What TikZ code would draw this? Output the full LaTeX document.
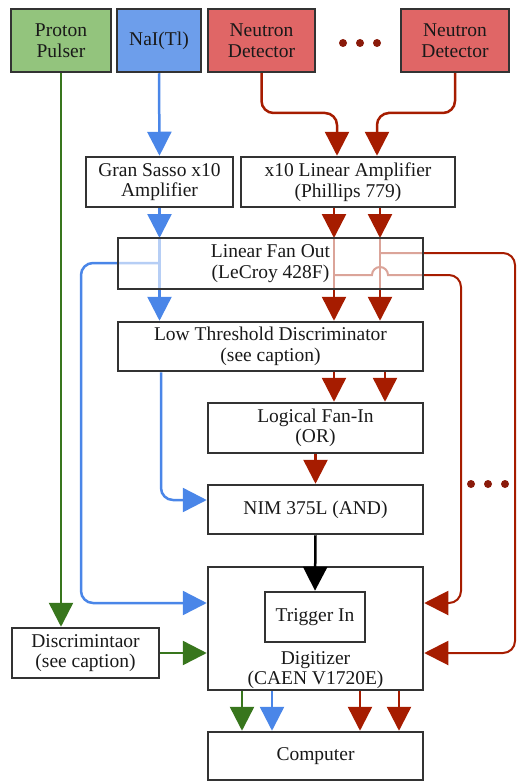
\documentclass[tikz,border=0pt]{standalone}
\usepackage{fontspec}
\setmainfont{Liberation Serif}
\usetikzlibrary{arrows.meta}
\definecolor{greenfill}{HTML}{93C47D}
\definecolor{bluefill}{HTML}{6D9EEB}
\definecolor{redfill}{HTML}{E06666}
\definecolor{gline}{HTML}{38761D}
\definecolor{bline}{HTML}{4A86E8}
\definecolor{rline}{HTML}{A61C00}
\definecolor{dotred}{HTML}{8A1A0A}
\definecolor{boxgray}{HTML}{333333}

\begin{document}
\begin{tikzpicture}[x=1pt,y=-1pt]
	\tikzstyle{every node}+=[inner sep=0pt]
	\tikzstyle{box}=[draw=boxgray,line width=2.5pt,align=center,text=black!90,font=\fontsize{19.5}{20.5}\selectfont,minimum height=50pt]
	\tikzstyle{sig}=[line width=2.5pt,-{Triangle[width=24pt,length=24pt]}]
	\tikzstyle{gsig}=[sig,draw=gline,gline]
	\tikzstyle{bsig}=[sig,draw=bline,bline]
	\tikzstyle{rsig}=[sig,draw=rline,rline]
	\useasboundingbox (0,0) rectangle (519,781);
	\node [box,fill=greenfill,minimum width=100pt,minimum height=63pt] (pp) at (61,40.5) {Proton\\Pulser};
	\node [box,fill=bluefill,minimum width=84pt,minimum height=63pt] (nai) at (159,40.5) {NaI(Tl)};
	\node [box,fill=redfill,minimum width=107pt,minimum height=63pt] (nd1) at (261.5,40.5) {Neutron\\Detector};
	\node [box,fill=redfill,minimum width=108pt,minimum height=63pt] (nd2) at (455,40.5) {Neutron\\Detector};
	\foreach \x in {343,360,377}
		\fill [dotred] (\x,43) circle (4pt);
	\node [box,minimum width=147pt] (gs) at (159.5,182) {Gran Sasso x10\\Amplifier};
	\node [box,minimum width=214pt] (amp) at (348,182) {x10 Linear Amplifier\\(Phillips 779)};
	\node [box,minimum width=305pt,minimum height=49pt] (ltd) at (270.5,346.5) {Low Threshold Discriminator\\(see caption)};
	\node [box,minimum width=215pt] (fin) at (315.5,428) {Logical Fan-In\\(OR)};
	\node [box,minimum width=215pt,minimum height=49pt] (nim) at (315.5,509.5) {NIM 375L (AND)};
	\node [box,minimum width=215pt,minimum height=123pt,
		label={[anchor=south,align=center,yshift=2pt,text=black!90,font=\fontsize{19.5}{20.5}\selectfont]south:Digitizer\\(CAEN V1720E)}] (dig) at (315.5,628.5) {};
	\node [box,minimum width=100pt] (trig) at (315,617) {Trigger In};
	\node [box,minimum width=147pt] (disc) at (85.5,653) {Discrimintaor\\(see caption)};
	\node [box,minimum width=215pt,minimum height=48pt] (comp) at (315.5,756) {Computer};
	\foreach \x in {471,488,505}
		\fill [dotred] (\x,484) circle (4pt);
	% proton pulser
	\draw [gsig] (pp.south) -- (pp.south |- disc.north);
	\draw [gsig] (disc.east) -- (disc.east -| dig.west);
	\draw [gsig] (dig.south -| 242,0) -- (comp.north -| 242,0);
	% NaI
	\draw [bsig] (nai.south) -- (gs.north);
	\draw [bsig] (gs.south) -- (gs.south |- 0,238);
	\draw [bsig] (gs.south |- 0,238) -- (gs.south |- ltd.north);
	\draw [bsig,rounded corners=12pt] (gs.south |- 0,263) -- (81,263) |- (dig.west |- 0,603);
	\draw [bsig,rounded corners=12pt] (ltd.south -| 161,0) |- (nim.west |- 0,500);
	\draw [bsig] (dig.south -| 272,0) -- (comp.north -| 272,0);
	% neutron detectors
	\draw [rsig,rounded corners=12pt] (nd1.south) |- (300,113) -| (amp.north -| 337,0);
	\draw [rsig,rounded corners=12pt] (nd2.south) |- (400,113) -| (amp.north -| 377,0);
	\foreach \x in {334,380} {
		\draw [rsig] (amp.south -| \x,0) -- (\x,238);
		\draw [rsig] (\x,238) -- (ltd.north -| \x,0);
	}
	\draw [rsig,line width=2pt,rounded corners=12pt] (380,253) -- (515,253) |- (dig.east |- 0,653);
	\draw [rsig,line width=2pt] (334,275) -- (372,275) arc [start angle=180,end angle=0,radius=8pt]
		[rounded corners=12pt] -- (461,275) |- (dig.east |- 0,603);
	\draw [rsig] (ltd.south -| 334,0) -- (fin.north -| 334,0);
	\draw [rsig] (ltd.south -| 385,0) -- (fin.north -| 385,0);
	\draw [rsig] (fin.south) -- (nim.north);
	\draw [rsig] (dig.south -| 360,0) -- (comp.north -| 360,0);
	\draw [rsig] (dig.south -| 399,0) -- (comp.north -| 399,0);
	% trigger
	\draw [sig,black] (nim.south) -- (trig.north);
	% fan out on top of the lines
	\node [box,fill=white,fill opacity=0.6,text opacity=1,draw opacity=1,minimum width=305pt,minimum height=51pt] (fan) at (270.5,263.5) {Linear Fan Out\\(LeCroy 428F)};
\end{tikzpicture}
\end{document}
